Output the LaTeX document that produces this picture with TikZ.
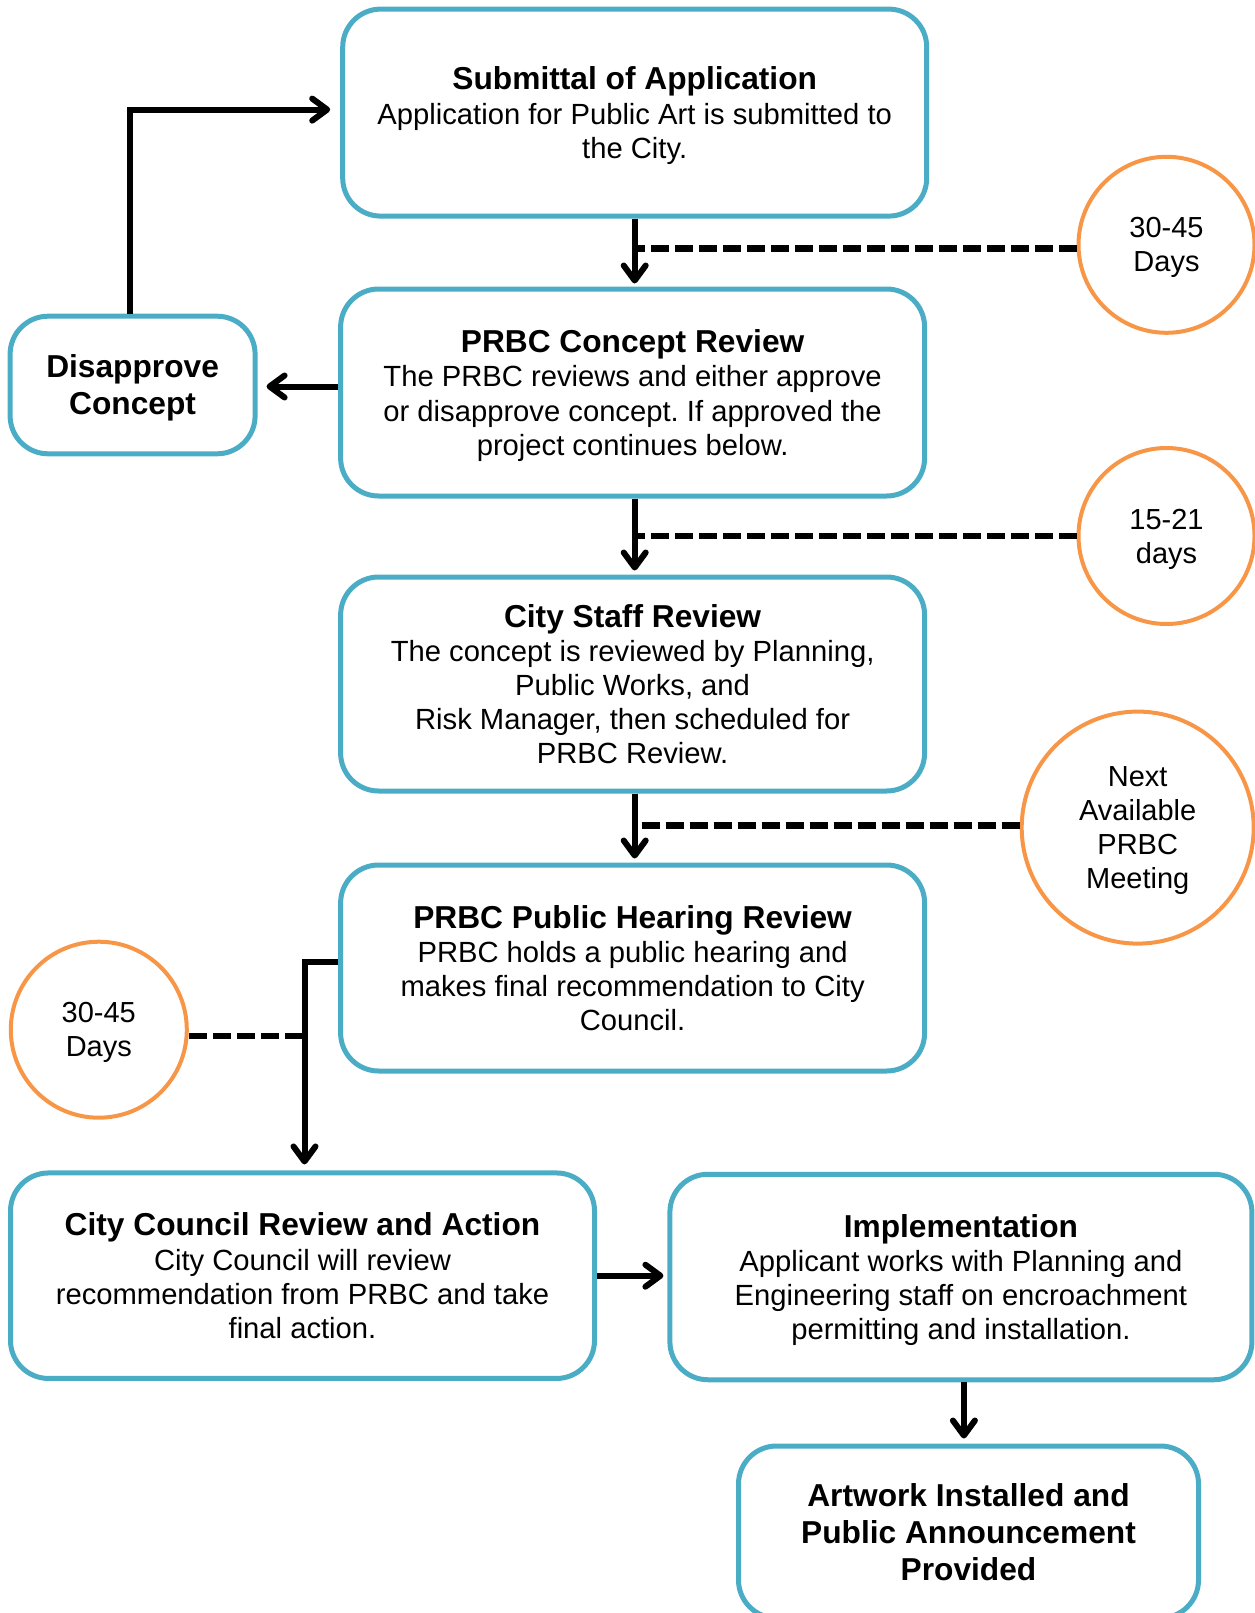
\documentclass[tikz,border=0pt]{standalone}
\usepackage{fontspec}
\setmainfont{Liberation Sans}
\usetikzlibrary{arrows.meta}
\definecolor{bbox}{HTML}{4BACC6}
\definecolor{orng}{HTML}{F79646}
\frenchspacing
\begin{document}
\begin{tikzpicture}[x=1pt,y=-1pt,
 box/.style={draw=bbox, line width=5pt, rounded corners=38pt, align=center, inner sep=0pt, rectangle, text depth=0pt, font=\fontsize{29.2}{34.2}\selectfont},
 tbox/.style={box, font=\fontsize{31.7}{37}\selectfont\bfseries},
 circ/.style={draw=orng, line width=4pt, circle, align=center, inner sep=0pt, text depth=-3pt, font=\fontsize{29}{34}\selectfont},
 arr/.style={line width=6pt, -{Straight Barb[length=15pt,width=22pt,line width=6pt,round]}},
 dsh/.style={line width=6.5pt, dash pattern=on 18pt off 6pt}
 ]
\useasboundingbox (0,0) rectangle (1254,1613);
\newcommand{\boxtitle}[1]{{\fontsize{31.7}{34.2}\selectfont\bfseries #1}}

\node[box, minimum width=584pt, minimum height=207pt] (b1) at (634.7,112.6)
 {\boxtitle{Submittal of Application}\\Application for Public Art is submitted to\\the City.};
\node[box, minimum width=584pt, minimum height=207pt] (b2) at (632.6,392.5)
 {\boxtitle{PRBC Concept Review}\\The PRBC reviews and either approve\\or disapprove concept. If approved the\\project continues below.};
\node[tbox, minimum width=245pt, minimum height=137.6pt] (dis) at (132.6,385)
 {Disapprove\\Concept};
\node[box, minimum width=584pt, minimum height=214pt] (b3) at (632.6,684)
 {\boxtitle{City Staff Review}\\The concept is reviewed by Planning,\\Public Works, and\\Risk Manager, then scheduled for\\PRBC Review.};
\node[box, minimum width=584pt, minimum height=206pt] (b4) at (632.6,968)
 {\boxtitle{PRBC Public Hearing Review}\\PRBC holds a public hearing and\\makes final recommendation to City\\Council.};
\node[box, minimum width=584pt, minimum height=205.5pt] (b5) at (302.5,1275.7)
 {\boxtitle{City Council Review and Action}\\City Council will review\\recommendation from PRBC and take\\final action.};
\node[box, minimum width=582pt, minimum height=205.5pt] (b6) at (960.9,1277)
 {\boxtitle{Implementation}\\Applicant works with Planning and\\Engineering staff on encroachment\\permitting and installation.};
\node[tbox, minimum width=460pt, minimum height=172pt] (b7) at (968.5,1532)
 {Artwork Installed and\\Public Announcement\\Provided};

\node[circ, minimum size=176pt] (c1) at (1166.5,244.8) {30-45\\Days};
\node[circ, minimum size=176pt] (c2) at (1166.5,536) {15-21\\days};
\node[circ, minimum size=232pt] (c3) at (1137.7,827.6) {Next\\Available\\PRBC\\Meeting};
\node[circ, minimum size=176pt] (c4) at (98.8,1029.7) {30-45\\Days};

\coordinate (lx) at ([xshift=2pt]b5.north);
\draw[dsh] ([yshift=-3.5pt]c1.west) -- ([yshift=-3.5pt]c1.west -| b1.south);
\draw[dsh] (c2.west) -- (c2.west -| b1.south);
\draw[dsh] ([yshift=2pt]c3.west) -- ([yshift=2pt]c3.west -| b1.south);
\draw[dsh] ([yshift=-6.5pt]c4.east) -- ([yshift=-6.5pt]c4.east -| lx);

\draw[arr, shorten >=3pt] (b1.south) -- (b1.south |- b2.north);
\draw[arr, shorten >=4pt] (b1.south |- b2.south) -- (b1.south |- b3.north);
\draw[arr, shorten >=4pt] (b1.south |- b3.south) -- (b1.south |- b4.north);
\draw[arr, shorten >=9pt] ([yshift=6pt]b2.west) -- ([yshift=6pt]b2.west -| dis.east);
\draw[arr, shorten >=10pt, line join=miter] ([xshift=-3pt]dis.north) -- ([xshift=-3pt,yshift=3pt]dis.north |- b1.west) -- ([yshift=3pt]b1.west);
\draw[arr, shorten >=6pt, line join=miter] ([yshift=6pt]b4.west) -- ([yshift=6pt]b4.west -| lx) -- (lx);
\draw[arr, shorten >=4pt] (b5.east) -- (b5.east -| b6.west);
\draw[arr, shorten >=5pt] ([xshift=3pt]b6.south) -- ([xshift=3pt]b6.south |- b7.north);
\end{tikzpicture}
\end{document}
